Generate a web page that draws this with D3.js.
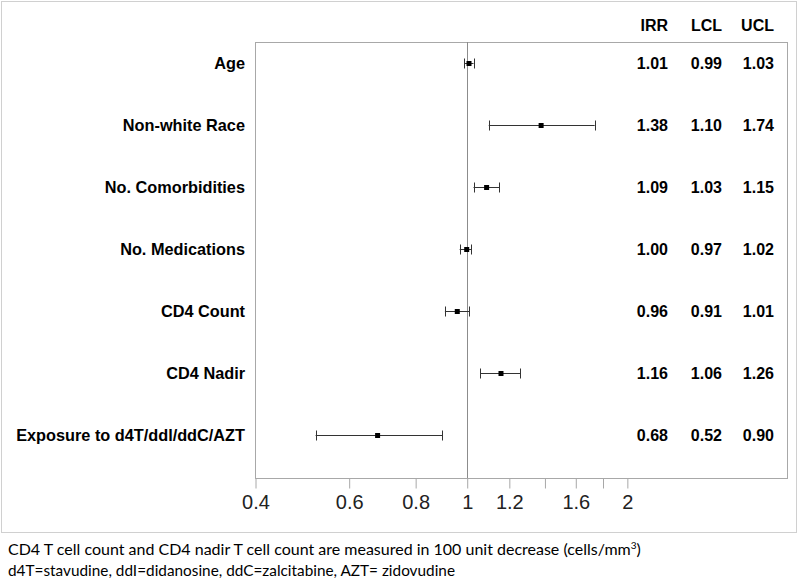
<!DOCTYPE html>
<html>
<head>
<meta charset="utf-8">
<script src="https://cdn.jsdelivr.net/npm/d3@7"></script>
<style>
  html, body { margin: 0; padding: 0; background: #fff; }
  svg { display: block; }
</style>
</head>
<body>
<svg id="chart" width="800" height="579"></svg>
<script>
// ---- Data ----
const categories = ["Age", "Non-white Race", "No. Comorbidities", "No. Medications",
                    "CD4 Count", "CD4 Nadir", "Exposure to d4T/ddl/ddC/AZT"];
const irr = [1.01, 1.38, 1.09, 1.00, 0.96, 1.16, 0.68];
const lcl = [0.99, 1.10, 1.03, 0.97, 0.91, 1.06, 0.52];
const ucl = [1.03, 1.74, 1.15, 1.02, 1.01, 1.26, 0.90];
const irrLabels = ["1.01", "1.38", "1.09", "1.00", "0.96", "1.16", "0.68"];
const lclLabels = ["0.99", "1.10", "1.03", "0.97", "0.91", "1.06", "0.52"];
const uclLabels = ["1.03", "1.74", "1.15", "1.02", "1.01", "1.26", "0.90"];
const columnHeaders = ["IRR", "LCL", "UCL"];
const tickValues = [0.4, 0.6, 0.8, 1, 1.2, 1.4, 1.6, 1.8, 2];
const tickLabels = ["0.4", "0.6", "0.8", "1", "1.2", "", "1.6", "", "2"];
const footnote1 = "CD4 T cell count and CD4 nadir T cell count are measured in 100 unit decrease (cells/mm";
const footnote2 = "d4T=stavudine, ddI=didanosine, ddC=zalcitabine, AZT= zidovudine";

// ---- Layout ----
const svg = d3.select("#chart");
const plot = { left: 255, right: 787, top: 42, bottom: 478 };

const x = d3.scaleLog().domain([0.4, 4]).range([plot.left, plot.right]);
const y = d3.scalePoint().domain(categories).range([63, 435]);

// outer frame
svg.append("rect")
  .attr("x", 1.5).attr("y", 1.5).attr("width", 795).attr("height", 531)
  .attr("fill", "none").attr("stroke", "#d0d0d0").attr("stroke-width", 1);

// plot frame
svg.append("rect")
  .attr("x", plot.left + 0.5).attr("y", plot.top + 0.5)
  .attr("width", plot.right - plot.left).attr("height", plot.bottom - plot.top)
  .attr("fill", "none").attr("stroke", "#a8a8a8").attr("stroke-width", 1);

// reference line at 1
svg.append("line")
  .attr("x1", Math.round(x(1)) + 0.5).attr("x2", Math.round(x(1)) + 0.5)
  .attr("y1", plot.top).attr("y2", plot.bottom)
  .attr("stroke", "#8c8c8c").attr("stroke-width", 1);

// x axis
const axis = d3.axisBottom(x)
  .tickValues(tickValues)
  .tickSize(10)
  .tickPadding(6)
  .tickFormat((d, i) => tickLabels[i]);
const gAxis = svg.append("g")
  .attr("transform", `translate(0.5,${plot.bottom + 0.5})`)
  .call(axis);
gAxis.select(".domain").remove();
gAxis.selectAll(".tick line").attr("stroke", "#a8a8a8");
gAxis.selectAll(".tick text")
  .attr("font-family", "'Liberation Sans', Arial, sans-serif")
  .attr("font-size", 20)
  .attr("fill", "#222");

// row labels
svg.append("g").selectAll("text")
  .data(categories).join("text")
  .attr("x", 245).attr("y", d => y(d))
  .attr("dy", "0.36em")
  .attr("text-anchor", "end")
  .attr("font-family", "'Liberation Sans', Arial, sans-serif")
  .attr("font-weight", "bold").attr("font-size", 16.3)
  .attr("fill", "#000")
  .text(d => d);

// error bars
const rows = categories.map((c, i) => ({ c, est: irr[i], lo: lcl[i], hi: ucl[i] }));
const gBars = svg.append("g");
gBars.selectAll("line.ci")
  .data(rows).join("line").attr("class", "ci")
  .attr("x1", d => x(d.lo)).attr("x2", d => x(d.hi))
  .attr("y1", d => y(d.c) + 0.5).attr("y2", d => y(d.c) + 0.5)
  .attr("stroke", "#333").attr("stroke-width", 1);
gBars.selectAll("line.capL")
  .data(rows).join("line").attr("class", "capL")
  .attr("x1", d => Math.round(x(d.lo)) + 0.5).attr("x2", d => Math.round(x(d.lo)) + 0.5)
  .attr("y1", d => y(d.c) - 4.5).attr("y2", d => y(d.c) + 5.5)
  .attr("stroke", "#333").attr("stroke-width", 1);
gBars.selectAll("line.capR")
  .data(rows).join("line").attr("class", "capR")
  .attr("x1", d => Math.round(x(d.hi)) + 0.5).attr("x2", d => Math.round(x(d.hi)) + 0.5)
  .attr("y1", d => y(d.c) - 4.5).attr("y2", d => y(d.c) + 5.5)
  .attr("stroke", "#333").attr("stroke-width", 1);
gBars.selectAll("rect.pt")
  .data(rows).join("rect").attr("class", "pt")
  .attr("x", d => x(d.est) - 2.5).attr("y", d => y(d.c) - 2)
  .attr("width", 5).attr("height", 5)
  .attr("fill", "#000");

// table columns
const colEnds = [668, 722, 774];
const colData = [irrLabels, lclLabels, uclLabels];
const gTable = svg.append("g")
  .attr("font-family", "'Liberation Sans', Arial, sans-serif")
  .attr("font-weight", "bold").attr("font-size", 16)
  .attr("fill", "#000").attr("text-anchor", "end");
columnHeaders.forEach((h, j) => {
  gTable.append("text").attr("x", colEnds[j]).attr("y", 31).text(h);
  gTable.selectAll(null)
    .data(colData[j]).join("text")
    .attr("x", colEnds[j])
    .attr("y", (d, i) => y(categories[i]))
    .attr("dy", "0.36em")
    .text(d => d);
});

// footnotes
const gFoot = svg.append("g")
  .attr("font-family", "Lato, 'Open Sans', sans-serif")
  .attr("font-size", 16).attr("fill", "#000");
const f1 = gFoot.append("text").attr("x", 8).attr("y", 555);
f1.append("tspan").text(footnote1);
f1.append("tspan").attr("font-size", 10).attr("dy", -6).text("3");
f1.append("tspan").attr("dy", 6).text(")");
gFoot.append("text").attr("x", 8).attr("y", 576)
  .attr("textLength", 447).attr("lengthAdjust", "spacingAndGlyphs")
  .text(footnote2);
</script>
</body>
</html>
